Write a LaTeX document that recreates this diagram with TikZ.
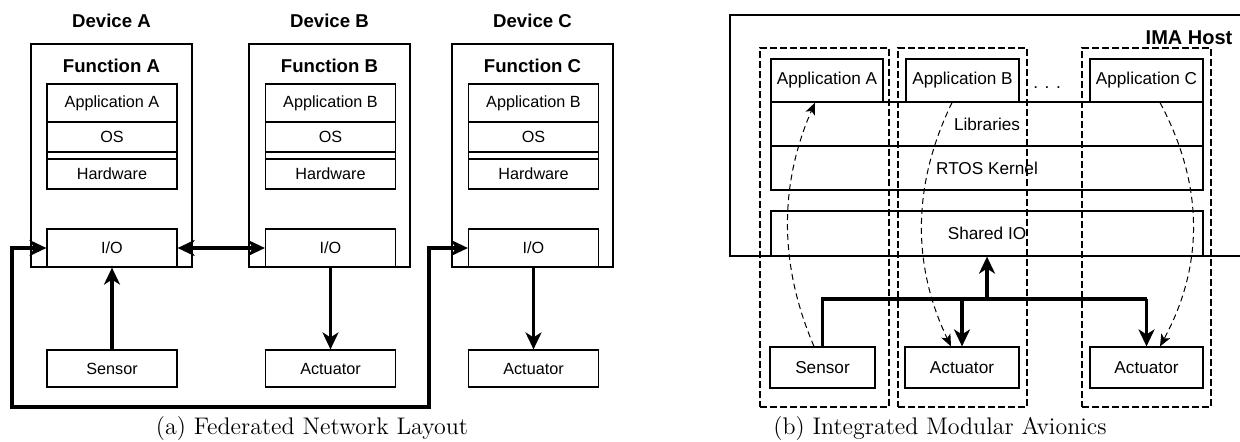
\documentclass[tikz,border=0pt]{standalone}
\usepackage{fontspec}
\setsansfont{Liberation Sans}
\usetikzlibrary{arrows.meta,calc}
\begin{document}
\begin{tikzpicture}[x=0.5pt,y=-0.5pt,
  lw/.style={line width=0.6pt},
  boxL/.style={draw, lw, inner sep=0pt, font=\sffamily\fontsize{8.1}{9}\selectfont},
  boxR/.style={draw, lw, inner sep=0pt, font=\sffamily\fontsize{8.6}{10}\selectfont},
  plain/.style={draw, lw, inner sep=0pt},
  headL/.style={inner sep=0pt, font=\sffamily\bfseries\fontsize{9.3}{11}\selectfont},
  headR/.style={inner sep=0pt, font=\sffamily\bfseries\fontsize{10}{12}\selectfont},
  part/.style={draw, lw, inner sep=0pt, dash pattern=on 3.5pt off 1.5pt},
  heavy/.style={line width=1.65pt, >={Stealth[length=8.5pt,width=8pt,inset=2.5pt]}},
  flow/.style={line width=0.5pt, dash pattern=on 3pt off 2pt, >={Stealth[length=6pt,width=5pt,inset=1.5pt]}},
  captext/.style={inner sep=0pt, font=\fontsize{12}{14}\selectfont}
]
\useasboundingbox (0,0) rectangle (1240,441);

% ---------- (a) Federated ----------
\node[headL] (hdA) at (111.5,21) {Device A};
\node[headL] (hdB) at (329.5,21) {Device B};
\node[headL] (hdC) at (532.5,21) {Device C};
\node[plain, minimum width=80.5pt, minimum height=111.5pt] (devA) at (111.5,155.5) {};
\node[plain, minimum width=80.5pt, minimum height=111.5pt] (devB) at (329.5,155.5) {};
\node[plain, minimum width=80.5pt, minimum height=111.5pt] (devC) at (532.5,155.5) {};
\node[headL] (fnA) at (111.5,66) {Function A};
\node[headL] (fnB) at (329.5,66) {Function B};
\node[headL] (fnC) at (532.5,66) {Function C};

\node[boxL, minimum width=65pt, minimum height=19pt] (lappA) at (112,103) {Application A};
\node[boxL, minimum width=65pt, minimum height=15pt] (losA) at (112,137) {OS};
\node[plain, minimum width=65pt, minimum height=3.5pt] (lgapA) at (112,155.5) {};
\node[boxL, minimum width=65pt, minimum height=15pt] (lhwA) at (112,174) {Hardware};
\node[boxL, minimum width=65pt, minimum height=19pt] (ioA) at (112,248) {I/O};
\node[boxL, minimum width=65pt, minimum height=18.5pt] (lsens) at (112,368.5) {Sensor};

\node[boxL, minimum width=65pt, minimum height=19pt] (lappB) at (330.5,103) {Application B};
\node[boxL, minimum width=65pt, minimum height=15pt] (losB) at (330.5,137) {OS};
\node[plain, minimum width=65pt, minimum height=3.5pt] (lgapB) at (330.5,155.5) {};
\node[boxL, minimum width=65pt, minimum height=15pt] (lhwB) at (330.5,174) {Hardware};
\node[boxL, minimum width=65pt, minimum height=19pt] (ioB) at (330.5,248) {I/O};
\node[boxL, minimum width=65pt, minimum height=18.5pt] (lactB) at (330.5,368.5) {Actuator};

\node[boxL, minimum width=65pt, minimum height=19pt] (lappC) at (533.5,103) {Application B};
\node[boxL, minimum width=65pt, minimum height=15pt] (losC) at (533.5,137) {OS};
\node[plain, minimum width=65pt, minimum height=3.5pt] (lgapC) at (533.5,155.5) {};
\node[boxL, minimum width=65pt, minimum height=15pt] (lhwC) at (533.5,174) {Hardware};
\node[boxL, minimum width=65pt, minimum height=19pt] (ioC) at (533.5,248) {I/O};
\node[boxL, minimum width=65pt, minimum height=18.5pt] (lactC) at (533.5,368.5) {Actuator};

\draw[heavy,->] (lsens.north) -- (ioA.south);
\draw[heavy,<->] (ioA.east) -- (ioB.west);
\draw[heavy,->] (ioB.south) -- (lactB.north);
\draw[heavy,->] (ioC.south) -- (lactC.north);
\coordinate (lp1) at (12,407);
\coordinate (lp2) at (429,407);
\draw[heavy,<->] (ioA.west) -| (lp1) -- (lp2) |- (ioC.west);

\node[captext] (capA) at (312,428) {(a) Federated Network Layout};

% ---------- (b) IMA ----------
\draw[lw] (1240,15) -- (730,15) -- (730,256) -- (1240,256);
\node[headR] (host) at (1189,38) {IMA Host};

\node[part, minimum width=64.5pt, minimum height=179.5pt] (p1) at (824.5,227.5) {};
\node[part, minimum width=64.5pt, minimum height=179.5pt] (p2) at (962.5,227.5) {};
\node[part, minimum width=64.5pt, minimum height=179.5pt] (p3) at (1146.5,227.5) {};

\node[boxR, minimum width=56pt, minimum height=21.5pt] (rappA) at (827,80.5) {Application A};
\node[boxR, minimum width=56.5pt, minimum height=21.5pt] (rappB) at (962.5,80.5) {Application B};
\node[boxR, minimum width=56.5pt, minimum height=21.5pt] (rappC) at (1146.5,80.5) {Application C};
\node[inner sep=0pt, font=\sffamily\fontsize{8.6}{10}\selectfont] (dots) at (1047,88) {.\hspace{3.3pt}.\hspace{3.3pt}.};
\node[boxR, minimum width=216pt, minimum height=22pt] (lib) at (987,124) {Libraries};
\node[boxR, minimum width=216pt, minimum height=22pt] (rtos) at (987,168) {RTOS Kernel};
\node[boxR, minimum width=216pt, minimum height=22.5pt] (sio) at (987,233.5) {Shared IO};

\node[boxR, minimum width=52.5pt, minimum height=20.5pt] (rsens) at (822.5,367.5) {Sensor};
\node[boxR, minimum width=57pt, minimum height=20.5pt] (ract1) at (962,367.5) {Actuator};
\node[boxR, minimum width=56.5pt, minimum height=20.5pt] (ract2) at (1146.5,367.5) {Actuator};

\coordinate (bL) at (822.5,299);
\coordinate (bR) at (1146.5,299);
\draw[heavy] (rsens.north) -- (bL) -- (bR);
\draw[heavy,->] (bR) -- (ract2.north);
\draw[heavy,->] (ract1.north |- bL) -- (ract1.north);
\draw[heavy,->] (sio.south |- bL) -- (sio.south);

\draw[flow,->] ([xshift=-4.25pt]rsens.north) .. controls (779,265) and (779,185) .. ([xshift=-6pt]rappA.south);
\draw[flow,->] ([xshift=-5.25pt]rappB.south) .. controls (912,185) and (912,265) .. ([xshift=-5.5pt]ract1.north);
\draw[flow,->] ([xshift=6.75pt]rappC.south) .. controls (1204,185) and (1204,265) .. ([xshift=6.75pt]ract2.north);

\node[captext] (capB) at (940,428) {(b) Integrated Modular Avionics};
\end{tikzpicture}
\end{document}
